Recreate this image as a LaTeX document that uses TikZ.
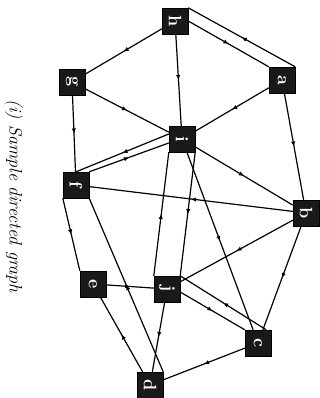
\documentclass[tikz,border=0pt]{standalone}
\usepackage{graphicx}
\usetikzlibrary{arrows.meta,decorations.markings}
\tikzset{
  vert/.style={draw=black,fill=black!90,text=white,minimum size=26pt,inner sep=0pt,
    font=\bfseries\fontsize{18}{18}\selectfont},
  diredge/.style={line width=1.2pt,postaction={decorate},
    decoration={markings,mark=at position 0.5 with {\arrow{Latex[length=5pt,width=4.5pt]}}}}
}
\newcommand{\vlab}[1]{\rotatebox{-90}{#1}}

\begin{document}
\begin{tikzpicture}[x=1pt,y=-1pt]
  \useasboundingbox (0,0) rectangle (320,398);
  % vertices
  \foreach \n/\x/\y in {h/175/21, a/282/80, g/72/82, i/182/139, f/76/185,
                        b/306/213, e/93/284, j/167/289, c/258/343, d/150/385}
    \node[vert] (\n) at (\x,\y) {\vlab{\n}};

  \node[rotate=-90,font=\itshape\fontsize{18}{20}\selectfont] (cap) at (14,196) {(i) Sample directed graph};

  % single edges
  \foreach \s/\t in {h/g, h/i, g/i, g/f, a/i, a/b, i/b, b/f, i/c, b/j, b/c,
                     e/j, d/e, j/d, c/d}
    \draw[diredge] (\s) -- (\t);

  % edges drawn off the centres
  \draw[diredge] (f.south west) -- (e.north west);
  \draw[diredge] (d.north east) -- (f.south east);
  \draw[diredge] (h.east) -- (a.north west);
  \draw[diredge] (a.north east) -- (h.north east);
  \draw[diredge] ([yshift=5pt]i.west) -- (f.north);
  \draw[diredge] (f.north east) -- ([yshift=-4pt]i.west);
  \draw[diredge] (j.north west) -- (i.south west);
  \draw[diredge] (i.south east) -- (j.north east);
  \draw[diredge] ([yshift=-3pt]j.east) -- (c.north west);
  \draw[diredge] ([xshift=-5pt]c.north east) -- (j.north east);
\end{tikzpicture}
\end{document}
